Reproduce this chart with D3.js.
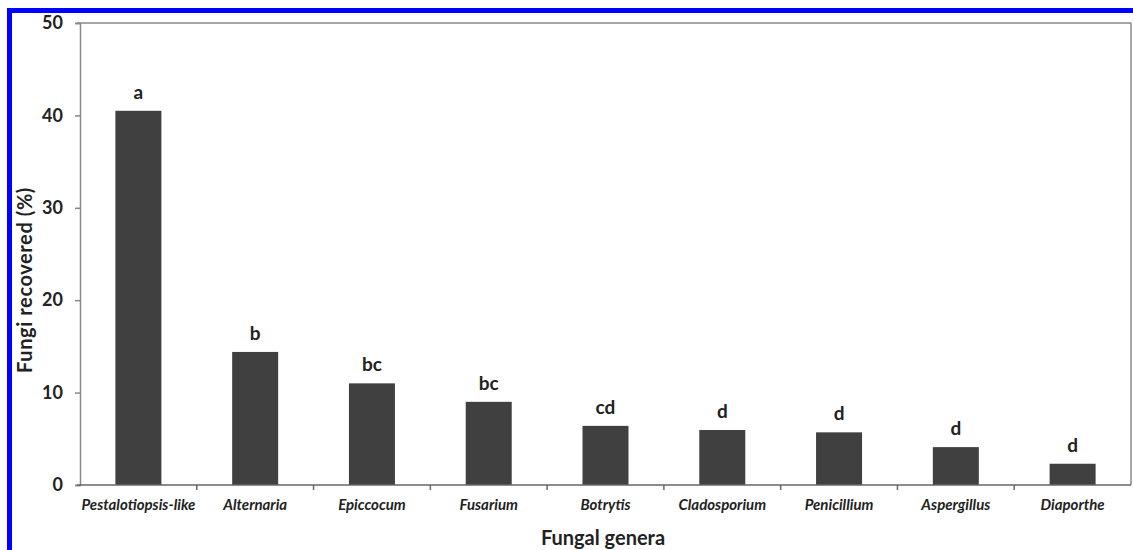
<!DOCTYPE html>
<html><head><meta charset="utf-8">
<script src="https://cdn.jsdelivr.net/npm/d3@7"></script>
<style>body{margin:0;background:#fff;} svg{display:block;}</style>
</head><body>
<script>
const categories = ["Pestalotiopsis-like","Alternaria","Epiccocum","Fusarium","Botrytis","Cladosporium","Penicillium","Aspergillus","Diaporthe"];
const values = [40.5, 14.4, 11.0, 9.0, 6.4, 5.95, 5.7, 4.1, 2.3];
const letters = ["a","b","bc","bc","cd","d","d","d","d"];
const yTicks = [0,10,20,30,40,50];

const W = 1133, H = 550;
const svg = d3.select("body").append("svg").attr("width", W).attr("height", H);
const font = "Lato, 'Open Sans', sans-serif";

// blue border
svg.append("rect").attr("x", 9.5).attr("y", 10.5).attr("width", W + 20).attr("height", H + 20)
  .attr("fill", "none").attr("stroke", "#0000ff").attr("stroke-width", 5);

const m = {l: 80, r: 1131, t: 23, b: 485};
const xb = d3.scaleBand().domain(categories).range([m.l, m.r]);
const y = d3.scaleLinear().domain([0, 50]).range([m.b, m.t]);

// frame
svg.append("line").attr("x1", m.l - 3).attr("x2", m.r).attr("y1", m.t).attr("y2", m.t).attr("stroke", "#888").attr("stroke-width", 1.5);
svg.append("line").attr("x1", m.r).attr("x2", m.r).attr("y1", m.t).attr("y2", m.b).attr("stroke", "#888").attr("stroke-width", 1.5);

// bars
svg.selectAll("rect.bar").data(categories).enter().append("rect").attr("class", "bar")
  .attr("x", d => xb(d) + xb.bandwidth()/2 - 23)
  .attr("width", 46)
  .attr("y", (d, i) => y(values[i]))
  .attr("height", (d, i) => y(0) - y(values[i]))
  .attr("fill", "#404040");

// letters
svg.selectAll("text.let").data(categories).enter().append("text").attr("class", "let")
  .attr("x", d => xb(d) + xb.bandwidth()/2)
  .attr("y", (d, i) => y(values[i]) - 12)
  .attr("text-anchor", "middle")
  .attr("font-family", font).attr("font-weight", "bold").attr("font-size", 19).attr("fill", "#222")
  .text((d, i) => letters[i]);

// y axis
const ya = svg.append("g").attr("transform", `translate(${m.l},0)`)
  .call(d3.axisLeft(y).tickValues(yTicks).tickSize(5).tickPadding(12));
ya.select(".domain").attr("stroke", "#888").attr("stroke-width", 1.5);
ya.selectAll(".tick line").attr("stroke", "#888").attr("stroke-width", 1.5);
ya.selectAll(".tick text").attr("font-family", font).attr("font-weight", "bold").attr("font-size", 18).attr("fill", "#222");

// x axis
const xa = svg.append("g").attr("transform", `translate(0,${m.b})`)
  .call(d3.axisBottom(xb).tickSize(0).tickPadding(14));
xa.select(".domain").attr("stroke", "#666").attr("stroke-width", 1.5).attr("d", `M${m.l-3},0H${m.r}`);
xa.selectAll(".tick text").attr("font-family", font).attr("font-weight", "bold").attr("font-style", "italic").attr("font-size", 15).attr("fill", "#222");
// boundary ticks
svg.append("g").selectAll("line").data(categories.slice(1)).enter().append("line")
  .attr("x1", d => xb(d)).attr("x2", d => xb(d)).attr("y1", m.b).attr("y2", m.b + 5)
  .attr("stroke", "#666").attr("stroke-width", 1.5);

// axis titles
svg.append("text").attr("x", 603).attr("y", 545).attr("text-anchor", "middle")
  .attr("font-family", font).attr("font-weight", "bold").attr("font-size", 20).attr("fill", "#222").text("Fungal genera");
svg.append("text").attr("transform", "translate(32,280) rotate(-90)").attr("text-anchor", "middle")
  .attr("font-family", font).attr("font-weight", "bold").attr("font-size", 20).attr("letter-spacing", 0.6).attr("fill", "#222").text("Fungi recovered (%)");
</script>
</body></html>
